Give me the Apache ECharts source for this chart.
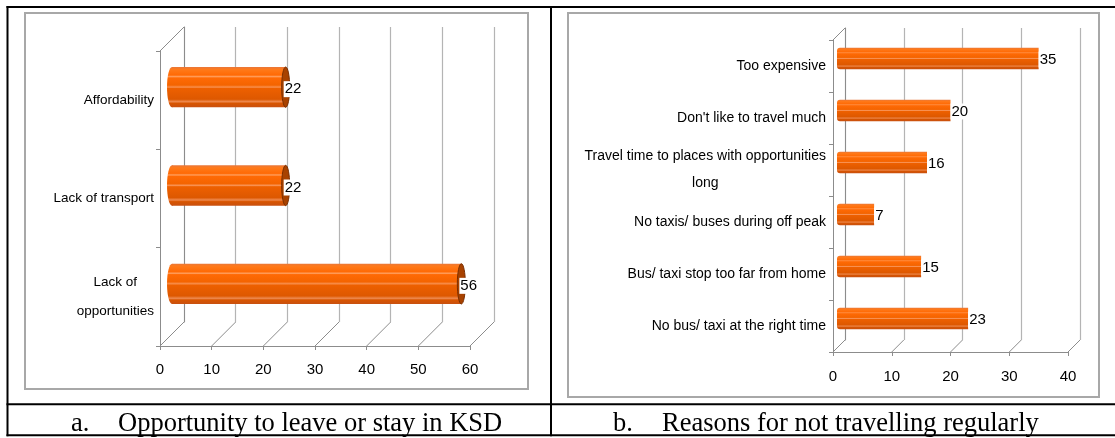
<!DOCTYPE html>
<html>
<head>
<meta charset="utf-8">
<title>Opportunity and travel reasons in KSD</title>
<script src="https://cdn.jsdelivr.net/npm/echarts@6/dist/echarts.min.js"></script>
<style>
  html, body { margin: 0; padding: 0; background: #fff; }
  #c { width: 1115px; height: 438px; }
</style>
</head>
<body>
<div id="c"></div>
<script>
// Panel a: opportunity to leave or stay in KSD (top to bottom)
const oppCategories = ['Affordability', 'Lack of transport', 'Lack of\nopportunities'];
const oppValues = [22, 22, 56];
const oppTicks = [0, 10, 20, 30, 40, 50, 60];

// Panel b: reasons for not travelling regularly (top to bottom)
const travelCategories = [
  'Too expensive',
  "Don't like to travel much",
  'Travel time to places with opportunities\nlong',
  'No taxis/ buses during off peak',
  'Bus/ taxi stop too far from home',
  'No bus/ taxi at the right time'
];
const travelValues = [35, 20, 16, 7, 15, 23];
const travelTicks = [0, 10, 20, 30, 40];

const captionA = ['a.', 'Opportunity to leave or stay in KSD'];
const captionB = ['b.', 'Reasons for not travelling regularly'];

const SANS = "'Liberation Sans', Arial, sans-serif";
const SERIF = "'Liberation Serif', 'Times New Roman', serif";
const AXIS = '#8C8C8C';
const GRID = '#B4B4B4';

function barFill() {
  return new echarts.graphic.LinearGradient(0, 0, 0, 1, [
    { offset: 0, color: '#E8773A' },
    { offset: 0.06, color: '#FF7A1A' },
    { offset: 0.2, color: '#FF6A05' },
    { offset: 0.24, color: '#FFA060' },
    { offset: 0.27, color: '#FF6A05' },
    { offset: 0.45, color: '#F46400' },
    { offset: 0.5, color: '#F89050' },
    { offset: 0.53, color: '#EE6000' },
    { offset: 0.8, color: '#DD5800' },
    { offset: 0.86, color: '#EE8A50' },
    { offset: 0.9, color: '#D85500' },
    { offset: 1, color: '#C85010' }
  ]);
}

// Floor diagonals of the 3-D box, one per value tick, plus the top edge of the side wall
function floorLines(dx, dy) {
  return function (params, api) {
    const cs = params.coordSys;
    const x = api.coord([api.value(0), 0])[0];
    const yb = cs.y + cs.height;
    const children = [{
      type: 'line',
      shape: { x1: x, y1: yb, x2: x + dx, y2: yb - dy },
      style: { stroke: AXIS, lineWidth: 1 }
    }];
    if (params.dataIndex === 0) {
      children.push({
        type: 'line',
        shape: { x1: cs.x, y1: cs.y, x2: cs.x + dx, y2: cs.y - dy },
        style: { stroke: AXIS, lineWidth: 1 }
      });
    }
    return { type: 'group', children: children };
  };
}

// Horizontal bars drawn as shaded tubes, with the value written at the end
function tubeBars(opt) {
  return function (params, api) {
    const v = api.value(0);
    const c = api.value(1);
    const p0 = api.coord([0, c]);
    const p1 = api.coord([v, c]);
    const band = api.size([0, 1])[1];
    const h = band * opt.ratio;
    const cy = p1[1] + opt.shiftY;
    const x0 = p0[0] + opt.startDx;
    const x1 = p1[0] + opt.endDx;
    const top = cy - h / 2;
    const children = [];
    if (opt.caps) {
      children.push({ type: 'ellipse', shape: { cx: x0, cy: cy, rx: opt.capRx, ry: h / 2 }, style: { fill: barFill() } });
      children.push({ type: 'rect', shape: { x: x0, y: top, width: x1 - x0, height: h }, style: { fill: barFill() } });
      children.push({ type: 'ellipse', shape: { cx: x1, cy: cy, rx: opt.capRx - 1, ry: h / 2 }, style: { fill: '#A84200', stroke: '#7A2E00', lineWidth: 1 } });
    } else {
      children.push({ type: 'rect', shape: { x: x0, y: top, width: x1 - x0, height: h, r: [3, 0, 0, 3] }, style: { fill: barFill() } });
    }
    children.push({
      type: 'text',
      style: {
        text: String(v),
        x: x1 + opt.labelDx,
        y: cy + opt.labelDy,
        font: opt.labelSize + 'px ' + SANS,
        fill: '#000',
        align: 'left',
        verticalAlign: 'middle',
        backgroundColor: '#fff',
        padding: [1, 1, 0, 1]
      }
    });
    return { type: 'group', children: children };
  };
}

function categoryLabel(size, lineH, margin) {
  return {
    show: true,
    margin: margin,
    align: 'right',
    fontFamily: SANS,
    fontSize: size,
    color: '#000',
    lineHeight: lineH,
    formatter: function (val) {
      return val.split('\n').map(function (s) { return '{c|' + s + '}'; }).join('\n');
    },
    rich: { c: { align: 'center', fontFamily: SANS, fontSize: size, color: '#000', lineHeight: lineH } }
  };
}

function frontValueAxis(grid, ticks, size, margin) {
  return {
    type: 'value', gridIndex: grid,
    min: ticks[0], max: ticks[ticks.length - 1], interval: ticks[1] - ticks[0],
    axisLine: { show: true, lineStyle: { color: AXIS, width: 1 } },
    axisTick: { show: true, length: 4, lineStyle: { color: AXIS } },
    axisLabel: { show: true, margin: margin, fontFamily: SANS, fontSize: size, color: '#000' },
    splitLine: { show: false }
  };
}

function backValueAxis(grid, ticks) {
  return {
    type: 'value', gridIndex: grid,
    min: ticks[0], max: ticks[ticks.length - 1], interval: ticks[1] - ticks[0],
    axisLine: { show: false }, axisTick: { show: false }, axisLabel: { show: false },
    splitLine: { show: true, lineStyle: { color: GRID, width: 1.2 } }
  };
}

const chart = echarts.init(document.getElementById('c'), null, { renderer: 'canvas' });

const tableLine = { stroke: '#000', lineWidth: 2 };
const frameStyle = { fill: 'none', stroke: '#A8A8A8', lineWidth: 2 };
const captionFont = '26.5px ' + SERIF;

chart.setOption({
  animation: false,
  backgroundColor: '#fff',
  grid: [
    { left: 160, top: 51, width: 310, height: 295 },   // a: front plane
    { left: 184, top: 27, width: 310, height: 295 },   // a: back wall
    { left: 833, top: 40, width: 235, height: 312 },   // b: front plane
    { left: 845, top: 28, width: 235, height: 312 }    // b: back wall
  ],
  xAxis: [
    frontValueAxis(0, oppTicks, 15, 16),
    backValueAxis(1, oppTicks),
    frontValueAxis(2, travelTicks, 15, 17),
    backValueAxis(3, travelTicks)
  ],
  yAxis: [
    {
      type: 'category', gridIndex: 0, data: oppCategories, inverse: true,
      axisLine: { show: true, lineStyle: { color: AXIS, width: 1 } },
      axisTick: { show: true, length: 4, lineStyle: { color: AXIS } },
      axisLabel: categoryLabel(13.5, 29, 6),
      splitLine: { show: false }
    },
    {
      type: 'category', gridIndex: 1, data: oppCategories, inverse: true,
      axisLine: { show: true, lineStyle: { color: AXIS, width: 1 } },
      axisTick: { show: false }, axisLabel: { show: false }, splitLine: { show: false }
    },
    {
      type: 'category', gridIndex: 2, data: travelCategories, inverse: true,
      axisLine: { show: true, lineStyle: { color: AXIS, width: 1 } },
      axisTick: { show: true, length: 4, lineStyle: { color: AXIS } },
      axisLabel: categoryLabel(14, 27, 7),
      splitLine: { show: false }
    },
    {
      type: 'category', gridIndex: 3, data: travelCategories, inverse: true,
      axisLine: { show: true, lineStyle: { color: AXIS, width: 1 } },
      axisTick: { show: false }, axisLabel: { show: false }, splitLine: { show: false }
    }
  ],
  series: [
    {
      type: 'custom', xAxisIndex: 0, yAxisIndex: 0, silent: true, clip: false,
      data: oppTicks.map(function (v) { return [v, 0]; }),
      encode: { x: 0, y: 1 },
      renderItem: floorLines(24, 24)
    },
    {
      type: 'custom', xAxisIndex: 0, yAxisIndex: 0, silent: true, clip: false, z: 5,
      data: oppValues.map(function (v, i) { return [v, i]; }),
      encode: { x: 0, y: 1 },
      renderItem: tubeBars({ ratio: 0.41, shiftY: -13, startDx: 12, endDx: 12, caps: true, capRx: 5, labelDx: -2, labelDy: 2, labelSize: 15 })
    },
    {
      type: 'custom', xAxisIndex: 2, yAxisIndex: 2, silent: true, clip: false,
      data: travelTicks.map(function (v) { return [v, 0]; }),
      encode: { x: 0, y: 1 },
      renderItem: floorLines(12, 12)
    },
    {
      type: 'custom', xAxisIndex: 2, yAxisIndex: 2, silent: true, clip: false, z: 5,
      data: travelValues.map(function (v, i) { return [v, i]; }),
      encode: { x: 0, y: 1 },
      renderItem: tubeBars({ ratio: 0.41, shiftY: -7.5, startDx: 4, endDx: 0, caps: false, capRx: 0, labelDx: 0, labelDy: 1, labelSize: 15 })
    }
  ],
  graphic: [
    // chart frames
    { type: 'rect', z: 0, shape: { x: 25, y: 13, width: 503, height: 376 }, style: frameStyle },
    { type: 'rect', z: 0, shape: { x: 568, y: 13, width: 531, height: 384 }, style: frameStyle },
    // table rules
    { type: 'line', shape: { x1: 6.5, y1: 7, x2: 1115, y2: 7 }, style: tableLine },
    { type: 'line', shape: { x1: 7.5, y1: 6, x2: 7.5, y2: 436.3 }, style: tableLine },
    { type: 'line', shape: { x1: 551, y1: 6, x2: 551, y2: 436.3 }, style: tableLine },
    { type: 'line', shape: { x1: 6.5, y1: 404.3, x2: 1115, y2: 404.3 }, style: tableLine },
    { type: 'line', shape: { x1: 6.5, y1: 435.3, x2: 1115, y2: 435.3 }, style: tableLine },
    // captions
    { type: 'text', style: { text: captionA[0], x: 71, y: 424, font: captionFont, fill: '#000', verticalAlign: 'middle' } },
    { type: 'text', style: { text: captionA[1], x: 118, y: 424, font: captionFont, fill: '#000', verticalAlign: 'middle' } },
    { type: 'text', style: { text: captionB[0], x: 613, y: 424, font: captionFont, fill: '#000', verticalAlign: 'middle' } },
    { type: 'text', style: { text: captionB[1], x: 662, y: 424, font: captionFont, fill: '#000', verticalAlign: 'middle' } }
  ]
});
</script>
</body>
</html>
